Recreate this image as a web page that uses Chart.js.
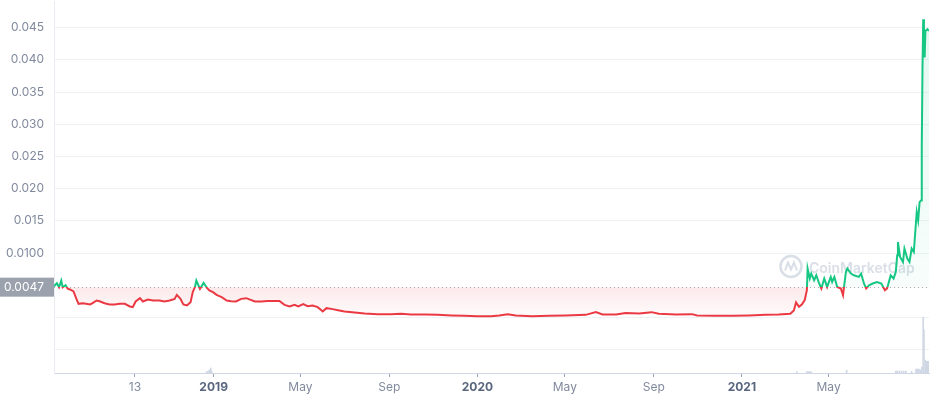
<!DOCTYPE html>
<html>
<head>
<meta charset="utf-8">
<script src="https://cdn.jsdelivr.net/npm/chart.js@4"></script>
<style>
  html, body { margin: 0; padding: 0; background: #fff; }
  #wrap { width: 930px; height: 400px; position: relative; }
</style>
</head>
<body>
<div id="wrap"><canvas id="chart"></canvas></div>
<script>
// days counted from 2019-01-01
const priceDays = [
  -221, -217, -214, -211, -209, -205, -202, -199, -194, -190, -187, -181, -171, -167, -162, -158,
  -151, -144, -137, -130, -123, -116, -112, -108, -102, -98, -91, -84, -75, -68, -61, -54,
  -51, -46, -42, -37, -32, -29, -26, -24, -19, -14, -9, -6, -1, 4, 11, 18,
  24, 31, 38, 45, 57, 66, 75, 91, 98, 105, 112, 117, 124, 130, 137, 144,
  151, 156, 163, 172, 181, 195, 209, 227, 246, 259, 273, 292, 310, 329, 347, 365,
  384, 395, 407, 418, 441, 464, 487, 515, 529, 538, 557, 570, 589, 606, 616, 640,
  662, 669, 695, 718, 741, 764, 782, 798, 803, 806, 810, 814, 818, 821, 822, 825,
  827, 831, 834, 838, 841, 845, 849, 854, 856, 859, 863, 868, 871, 875, 877, 882,
  886, 893, 896, 900, 903, 907, 912, 918, 924, 929, 932, 937, 941, 944, 946, 947,
  950, 954, 956, 960, 963, 966, 969, 971, 973, 975, 977, 979, 980, 981, 982, 983,
  984, 985, 988, 990
];
const prices = [
  0.00485, 0.00531, 0.00469, 0.00573, 0.00469, 0.00500, 0.00446, 0.00434, 0.00403, 0.00288, 0.00211, 0.00221, 0.00201, 0.00226, 0.00263, 0.00252,
  0.00221, 0.00201, 0.00201, 0.00211, 0.00211, 0.00170, 0.00160, 0.00248, 0.00299, 0.00248, 0.00279, 0.00263, 0.00263, 0.00248, 0.00263, 0.00288,
  0.00350, 0.00288, 0.00201, 0.00186, 0.00237, 0.00392, 0.00469, 0.00573, 0.00443, 0.00536, 0.00454, 0.00418, 0.00392, 0.00350, 0.00314, 0.00263,
  0.00252, 0.00248, 0.00288, 0.00299, 0.00248, 0.00248, 0.00257, 0.00257, 0.00195, 0.00170, 0.00195, 0.00170, 0.00206, 0.00175, 0.00186, 0.00160,
  0.00093, 0.00144, 0.00133, 0.00113, 0.00093, 0.00077, 0.00062, 0.00051, 0.00051, 0.00056, 0.00046, 0.00046, 0.00040, 0.00031, 0.00025, 0.00020,
  0.00020, 0.00031, 0.00051, 0.00031, 0.00020, 0.00025, 0.00031, 0.00040, 0.00082, 0.00046, 0.00046, 0.00067, 0.00062, 0.00082, 0.00056, 0.00046,
  0.00051, 0.00031, 0.00025, 0.00025, 0.00031, 0.00040, 0.00046, 0.00056, 0.00108, 0.00232, 0.00164, 0.00201, 0.00268, 0.00423, 0.00759, 0.00604,
  0.00681, 0.00578, 0.00655, 0.00527, 0.00449, 0.00604, 0.00474, 0.00629, 0.00551, 0.00629, 0.00474, 0.00449, 0.00345, 0.00706, 0.00759, 0.00681,
  0.00655, 0.00629, 0.00681, 0.00527, 0.00449, 0.00500, 0.00527, 0.00551, 0.00527, 0.00423, 0.00449, 0.00655, 0.00604, 0.00706, 0.00965, 0.01171,
  0.00939, 0.00861, 0.01069, 0.00914, 0.00861, 0.01069, 0.01016, 0.01326, 0.01635, 0.01507, 0.01790, 0.01817, 0.02642, 0.03881, 0.04631, 0.04501,
  0.04036, 0.04449, 0.04476, 0.04449
];

const volDays = [-10, -8, -6, -4, -3, 807, 821, 823, 825, 827, 876, 944, 946, 949, 952, 955, 958, 966, 972, 974, 976, 978, 980, 982, 983, 985, 986, 987, 988, 989, 990];
const volumes = [10, 20, 30, 50, 20, 13, 13, 13, 13, 13, 30, 20, 20, 20, 20, 20, 20, 15, 40, 40, 40, 30, 60, 560, 430, 130, 117, 117, 117, 117, 117];

const baseline = 0.0047;
const xTickDays = [-109, 0, 120, 243, 365, 486, 609, 731, 851];
const xTickLabels = ['13', '2019', 'May', 'Sep', '2020', 'May', 'Sep', '2021', 'May'];
const yTickValues = [-0.005, 0, 0.01, 0.015, 0.02, 0.025, 0.03, 0.035, 0.04, 0.045];
const yTickLabels = ['', '', '0.0100', '0.015', '0.020', '0.025', '0.030', '0.035', '0.040', '0.045'];

const GREEN = '#16c784';
const RED = '#ea3943';

const pricePoints = priceDays.map((d, i) => ({ x: d, y: prices[i] }));
const volPoints = volDays.map((d, i) => ({ x: d, y: volumes[i] }));

const overlay = {
  id: 'overlay',
  beforeDatasetsDraw(chart) {
    const { ctx, chartArea: a, scales: { y } } = chart;
    const py = Math.round(y.getPixelForValue(baseline)) + 0.5;
    ctx.save();
    // watermark
    ctx.strokeStyle = 'rgba(185,194,212,0.55)';
    ctx.fillStyle = 'rgba(185,194,212,0.55)';
    ctx.lineWidth = 2.5;
    const cx = a.right - 138, cy = py - 21;
    ctx.beginPath();
    ctx.arc(cx, cy, 10.5, 0, Math.PI * 2);
    ctx.stroke();
    ctx.beginPath();
    ctx.moveTo(cx - 6, cy + 4);
    ctx.lineTo(cx - 3, cy - 4);
    ctx.lineTo(cx, cy + 3);
    ctx.lineTo(cx + 3, cy - 4);
    ctx.lineTo(cx + 6, cy + 4);
    ctx.lineWidth = 2;
    ctx.stroke();
    ctx.font = '600 14px Inter';
    ctx.textBaseline = 'alphabetic';
    ctx.fillText('CoinMarketCap', cx + 18, cy + 6);
    // dotted baseline
    ctx.strokeStyle = '#a6acb8';
    ctx.lineWidth = 1;
    ctx.setLineDash([1, 3]);
    ctx.beginPath();
    ctx.moveTo(a.left, py);
    ctx.lineTo(a.right, py);
    ctx.stroke();
    ctx.restore();
  },
  afterDraw(chart) {
    const { ctx, chartArea: a, scales: { y } } = chart;
    const py = y.getPixelForValue(baseline);
    ctx.save();
    ctx.fillStyle = '#9ba1ad';
    ctx.fillRect(0, py - 9.5, a.left, 19);
    ctx.fillStyle = '#ffffff';
    ctx.font = '12px Inter';
    ctx.textAlign = 'right';
    ctx.textBaseline = 'middle';
    ctx.fillText(String(baseline), a.left - 10, py);
    ctx.restore();
  }
};

const chart = new Chart(document.getElementById('chart'), {
  type: 'line',
  data: {
    datasets: [
      {
        type: 'line',
        data: pricePoints,
        borderColor: RED,
        borderWidth: 2,
        pointRadius: 0,
        tension: 0,
        fill: { value: baseline, above: 'rgba(22,199,132,0.06)', below: 'rgba(234,57,67,0.06)' },
        yAxisID: 'y',
        order: 0
      },
      {
        type: 'bar',
        data: volPoints,
        backgroundColor: '#cfd6e4',
        barThickness: 1,
        yAxisID: 'vol',
        order: 1
      }
    ]
  },
  options: {
    responsive: true,
    maintainAspectRatio: false,
    animation: false,
    layout: { padding: 0 },
    plugins: { legend: { display: false }, tooltip: { enabled: false } },
    scales: {
      x: {
        type: 'linear',
        min: -221,
        max: 990,
        offset: false,
        afterBuildTicks: (s) => { s.ticks = xTickDays.map(v => ({ value: v })); },
        afterFit: (s) => { s.height = 27; s.paddingLeft = 0; s.paddingRight = 0; },
        grid: { offset: false, drawOnChartArea: false, drawTicks: true, tickLength: 4, tickColor: '#9aa3b5' },
        border: { color: '#cfd6e4' },
        ticks: {
          autoSkip: false,
          maxRotation: 0,
          padding: 3,
          callback: (v) => xTickLabels[xTickDays.indexOf(v)],
          color: (c) => /^\d{4}$/.test(xTickLabels[c.index]) ? '#58667e' : '#808a9d',
          font: (c) => ({ family: 'Inter', size: 12, weight: /^\d{4}$/.test(xTickLabels[c.index]) ? '700' : '400' })
        }
      },
      y: {
        type: 'linear',
        position: 'left',
        min: -0.00863,
        max: 0.04914,
        afterBuildTicks: (s) => { s.ticks = yTickValues.map(v => ({ value: v })); },
        afterFit: (s) => { s.width = 54; s.paddingTop = 0; s.paddingBottom = 0; },
        grid: { color: '#eff2f5', drawTicks: false },
        border: { color: '#e9edf2' },
        ticks: {
          padding: 10,
          color: '#808a9d',
          font: { family: 'Inter', size: 12 },
          callback: (v, i) => yTickLabels[i]
        }
      },
      vol: {
        type: 'linear',
        display: false,
        min: 0,
        max: 3730
      }
    }
  },
  plugins: [overlay]
});

// colour the line and fills relative to the baseline price
const area = chart.chartArea;
const yBase = chart.scales.y.getPixelForValue(baseline);
const yZero = chart.scales.y.getPixelForValue(0);
const split = (yBase - area.top) / (area.bottom - area.top);
const g = chart.ctx;
const stroke = g.createLinearGradient(0, area.top, 0, area.bottom);
stroke.addColorStop(0, GREEN);
stroke.addColorStop(split, GREEN);
stroke.addColorStop(split, RED);
stroke.addColorStop(1, RED);
const above = g.createLinearGradient(0, area.top, 0, yBase);
above.addColorStop(0, 'rgba(22,199,132,0.13)');
above.addColorStop(1, 'rgba(22,199,132,0.03)');
const below = g.createLinearGradient(0, yBase, 0, yZero);
below.addColorStop(0, 'rgba(234,57,67,0.11)');
below.addColorStop(1, 'rgba(234,57,67,0.02)');
chart.data.datasets[0].borderColor = stroke;
chart.data.datasets[0].fill = { value: baseline, above: above, below: below };
chart.update('none');
</script>
</body>
</html>
